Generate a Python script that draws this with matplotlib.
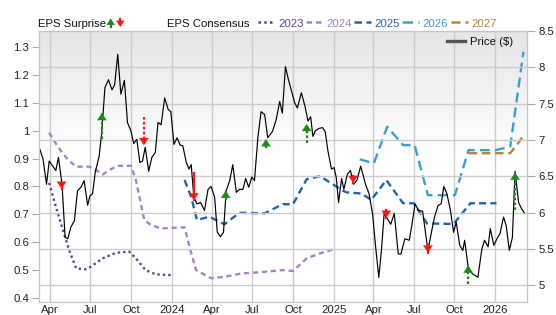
import numpy as np
import pandas as pd
import matplotlib
matplotlib.use("Agg")
import matplotlib.pyplot as plt
import matplotlib.dates as mdates
from matplotlib.lines import Line2D
from matplotlib.colors import LinearSegmentedColormap
from matplotlib.ticker import FixedLocator, FixedFormatter, FuncFormatter

plt.rcParams["font.family"] = ["Liberation Sans", "DejaVu Sans"]

# %%
# Data
price_dates = [
    "2023-03-09", "2023-03-16", "2023-03-24", "2023-03-30", "2023-04-07", "2023-04-14", "2023-04-20", "2023-04-28",
    "2023-05-05", "2023-05-11", "2023-05-18", "2023-05-26", "2023-06-02", "2023-06-10", "2023-06-17", "2023-06-25",
    "2023-06-30", "2023-07-06", "2023-07-12", "2023-07-21", "2023-07-27", "2023-08-03", "2023-08-11", "2023-08-19",
    "2023-08-25", "2023-09-01", "2023-09-08", "2023-09-16", "2023-09-23", "2023-10-01", "2023-10-07", "2023-10-14",
    "2023-10-21", "2023-10-27", "2023-11-02", "2023-11-10", "2023-11-17", "2023-11-25", "2023-12-01", "2023-12-08",
    "2023-12-16", "2023-12-24", "2023-12-30", "2024-01-06", "2024-01-13", "2024-01-20", "2024-01-26", "2024-02-03",
    "2024-02-09", "2024-02-14", "2024-02-20", "2024-02-27", "2024-03-06", "2024-03-15", "2024-03-23", "2024-03-30",
    "2024-04-07", "2024-04-13", "2024-04-20", "2024-04-27", "2024-05-03", "2024-05-11", "2024-05-18", "2024-05-26",
    "2024-06-02", "2024-06-10", "2024-06-16", "2024-06-23", "2024-06-30", "2024-07-06", "2024-07-14", "2024-07-21",
    "2024-07-29", "2024-08-05", "2024-08-16", "2024-08-24", "2024-09-01", "2024-09-07", "2024-09-14", "2024-09-20",
    "2024-09-28", "2024-10-05", "2024-10-11", "2024-10-20", "2024-10-28", "2024-11-04", "2024-11-10", "2024-11-15",
    "2024-11-21", "2024-11-29", "2024-12-07", "2024-12-13", "2024-12-19", "2024-12-27", "2025-01-02", "2025-01-07",
    "2025-01-12", "2025-01-19", "2025-01-24", "2025-02-01", "2025-02-08", "2025-02-15", "2025-02-23", "2025-03-03",
    "2025-03-08", "2025-03-14", "2025-03-22", "2025-03-30", "2025-04-06", "2025-04-13", "2025-04-19", "2025-04-25",
    "2025-05-03", "2025-05-10", "2025-05-18", "2025-05-27", "2025-06-02", "2025-06-11", "2025-06-21", "2025-06-27",
    "2025-07-04", "2025-07-12", "2025-07-21", "2025-08-02", "2025-08-10", "2025-08-17", "2025-08-25", "2025-09-01",
    "2025-09-07", "2025-09-14", "2025-09-22", "2025-09-29", "2025-10-05", "2025-10-13", "2025-10-20", "2025-10-24",
    "2025-11-01", "2025-11-10", "2025-11-23", "2025-12-02", "2025-12-08", "2025-12-16", "2025-12-21", "2025-12-29",
    "2026-01-05", "2026-01-12", "2026-01-20", "2026-01-26", "2026-02-02", "2026-02-09", "2026-02-15", "2026-02-23",
    "2026-03-02", "2026-03-08",
]
price_values = [
    6.87, 6.74, 6.39, 6.71, 6.64, 6.58, 6.76, 6.39,
    5.66, 5.64, 5.80, 5.89, 6.30, 6.35, 6.44, 6.10,
    6.23, 6.26, 6.55, 6.78, 7.12, 7.72, 7.83, 7.69,
    7.76, 8.18, 7.63, 7.82, 7.24, 7.12, 6.95, 7.01,
    6.69, 6.71, 6.90, 6.57, 6.76, 6.83, 7.24, 7.21,
    7.58, 7.42, 7.39, 6.94, 7.03, 6.93, 6.92, 6.69,
    6.60, 6.66, 6.21, 6.12, 6.14, 6.03, 6.32, 6.36,
    6.21, 5.73, 5.67, 5.73, 6.30, 6.44, 6.66, 6.28,
    6.32, 6.32, 6.47, 6.35, 6.49, 6.44, 7.05, 7.39,
    7.35, 7.03, 7.12, 7.28, 7.53, 7.37, 8.01, 7.85,
    7.67, 7.51, 7.44, 7.65, 7.47, 7.26, 7.32, 7.05,
    7.13, 7.16, 7.17, 7.11, 6.85, 6.60, 6.62, 6.48,
    6.14, 6.47, 6.32, 6.53, 6.58, 6.39, 6.45, 6.64,
    6.53, 6.39, 6.26, 5.98, 5.52, 5.11, 5.48, 5.98,
    5.91, 5.84, 5.99, 5.43, 5.43, 5.64, 5.62, 5.84,
    6.12, 6.03, 6.02, 5.48, 5.73, 5.94, 6.10, 6.12,
    6.36, 6.26, 6.03, 5.73, 5.87, 5.55, 5.48, 5.62,
    5.25, 5.16, 5.11, 5.50, 5.62, 5.53, 5.78, 5.55,
    5.64, 5.71, 5.94, 5.82, 5.48, 5.66, 6.57, 6.14,
    6.05, 6.00,
]

eps_2023_dates = ["2023-03-30", "2023-04-14", "2023-04-29", "2023-05-14", "2023-05-30", "2023-06-21",
                  "2023-07-02", "2023-07-29", "2023-08-28", "2023-09-27", "2023-10-12", "2023-11-03",
                  "2023-11-26", "2023-12-30"]
eps_2023 = [0.813, 0.728, 0.650, 0.573, 0.507, 0.504, 0.513, 0.543, 0.563, 0.567, 0.543, 0.501, 0.486, 0.483]

eps_2024_dates = ["2023-03-30", "2023-04-14", "2023-04-29", "2023-05-14", "2023-05-30", "2023-06-28",
                  "2023-07-14", "2023-07-29", "2023-08-13", "2023-09-01", "2023-10-01", "2023-10-12",
                  "2023-10-23", "2023-10-31", "2023-11-15", "2023-12-08", "2024-01-30", "2024-02-10",
                  "2024-02-25", "2024-03-30", "2024-04-29", "2024-06-06", "2024-07-14", "2024-09-08",
                  "2024-10-01", "2024-11-01", "2024-12-01", "2024-12-31"]
eps_2024 = [0.992, 0.954, 0.919, 0.892, 0.871, 0.871, 0.859, 0.843, 0.859, 0.874, 0.874, 0.823,
            0.740, 0.680, 0.662, 0.650, 0.654, 0.585, 0.501, 0.472, 0.477, 0.489, 0.493, 0.501,
            0.498, 0.543, 0.561, 0.575]

eps_2025_dates = ["2024-01-30", "2024-02-14", "2024-02-27", "2024-03-26", "2024-04-29", "2024-06-02",
                  "2024-07-29", "2024-09-08", "2024-10-01", "2024-11-01", "2024-12-01", "2025-01-22",
                  "2025-01-30", "2025-03-05", "2025-03-27", "2025-04-30", "2025-06-07", "2025-07-01",
                  "2025-07-31", "2025-09-29", "2025-11-06", "2026-01-04"]
eps_2025 = [0.823, 0.763, 0.680, 0.692, 0.665, 0.706, 0.704, 0.737, 0.736, 0.826, 0.837, 0.785,
            0.779, 0.775, 0.752, 0.823, 0.740, 0.740, 0.668, 0.666, 0.740, 0.740]

eps_2026_dates = ["2025-03-01", "2025-04-02", "2025-05-02", "2025-06-07", "2025-07-03", "2025-08-02",
                  "2025-10-02", "2025-11-02", "2026-01-01", "2026-02-04", "2026-03-06"]
eps_2026 = [0.897, 0.883, 1.014, 0.948, 0.948, 0.769, 0.769, 0.930, 0.930, 0.942, 1.282]

eps_2027_dates = ["2025-11-02", "2026-02-04", "2026-03-06"]
eps_2027 = [0.919, 0.919, 0.980]

# EPS surprises, drawn against the price scale
surprise_dates = ["2023-04-27", "2023-07-27", "2023-10-30", "2024-02-20", "2024-05-02", "2024-08-01",
                  "2024-11-01", "2025-02-14", "2025-04-30", "2025-08-02", "2025-11-01", "2026-02-15"]
surprise_from = [6.41, 7.01, 7.31, 6.54, 6.19, 6.89, 6.96, 6.51, 6.03, 5.55, 5.02, 6.03]
surprise_to = [6.33, 7.37, 6.93, 6.17, 6.30, 7.01, 7.22, 6.41, 5.93, 5.45, 5.27, 6.55]
surprise_dotted = [False, True, True, False, False, True, True, False, False, False, True, True]

tick_dates = ["2023-04-01", "2023-07-01", "2023-10-01", "2024-01-01", "2024-04-01", "2024-07-01",
              "2024-10-01", "2025-01-01", "2025-04-01", "2025-07-01", "2025-10-01", "2026-01-01"]
tick_labels = ["Apr", "Jul", "Oct", "2024", "Apr", "Jul", "Oct", "2025", "Apr", "Jul", "Oct", "2026"]

series = [
    ("2023", eps_2023_dates, eps_2023, "#633f93", (0, (1, 1.3))),
    ("2024", eps_2024_dates, eps_2024, "#a583c6", (0, (2.2, 1.6))),
    ("2025", eps_2025_dates, eps_2025, "#2263ad", (0, (3, 1.8))),
    ("2026", eps_2026_dates, eps_2026, "#3b9fd0", (0, (4.2, 2.2))),
    ("2027", eps_2027_dates, eps_2027, "#b7843a", (0, (3.6, 2.0))),
]
GREEN = "#1b8a1b"
RED = "#ff1414"
GRID = "#cccccc"
FS = 8.2

W, H = 556, 315
fig = plt.figure(figsize=(W / 100, H / 100), dpi=100)
rect = [39 / W, 13 / H, 488 / W, 271 / H]

# gradient background behind the plot
bg = fig.add_axes(rect, zorder=-1)
rows = np.clip(np.linspace(0, 271, 271) / 120.0, 0, 1)
shade = LinearSegmentedColormap.from_list("bg", ["#e5e5e5", "#ffffff"])
bg.imshow(rows.reshape(-1, 1), cmap=shade, aspect="auto", extent=[0, 1, 0, 1])
bg.axis("off")

ax = fig.add_axes(rect)
ax.patch.set_visible(False)
ax2 = ax.twinx()

for name, dates, vals, color, ls in series:
    ax.plot(pd.to_datetime(dates), vals, color=color, lw=1.7, linestyle=ls,
            dash_capstyle="butt", solid_joinstyle="round")

ax2.plot(pd.to_datetime(price_dates), price_values, color="black", lw=0.85)

for d, y0, y1, dotted in zip(surprise_dates, surprise_from, surprise_to, surprise_dotted):
    dt = pd.Timestamp(d)
    color = GREEN if y1 > y0 else RED
    ax2.plot([dt, dt], [y0, y1], color=color, lw=1.6,
             linestyle=(0, (1.2, 1.0)) if dotted else "-")
    off = -5 if y1 > y0 else 5
    ax2.annotate("", xy=(dt, y1), xytext=(0, off), textcoords="offset points",
                 arrowprops=dict(arrowstyle="-|>,head_width=0.34,head_length=0.5",
                                 color=color, lw=0.1, shrinkA=0, shrinkB=0))

start, end = pd.Timestamp("2023-03-07"), pd.Timestamp("2026-03-14")
ax.set_xlim(start, end)
ax.set_ylim(0.387, 1.356)
ax2.set_ylim(4.77, 8.5)

ax.xaxis.set_major_locator(FixedLocator(mdates.date2num(pd.to_datetime(tick_dates))))
ax.xaxis.set_major_formatter(FixedFormatter(tick_labels))
ax.set_yticks(np.arange(0.4, 1.31, 0.1))
ax2.set_yticks(np.arange(5.0, 8.51, 0.5))
ax.yaxis.set_major_formatter(FuncFormatter(lambda v, _: f"{round(v, 1):g}"))
ax2.yaxis.set_major_formatter(FuncFormatter(lambda v, _: f"{v:g}"))

ax.grid(axis="x", color=GRID, lw=1)
ax2.grid(axis="y", color=GRID, lw=1)
ax2.set_axisbelow(True)
for a in (ax, ax2):
    for s in a.spines.values():
        s.set_color("#c4c4c4")
ax.tick_params(axis="x", length=0, pad=2, labelsize=FS, colors="#222222")
ax.tick_params(axis="y", length=5, pad=2, labelsize=FS, color="#aaaaaa", labelcolor="#222222")
ax2.tick_params(axis="y", length=6, pad=2, labelsize=FS, color="#aaaaaa", labelcolor="#222222")


def fp(x, y):
    return x / W, 1 - y / H


# top legend
fig.text(*fp(38, 27.3), "EPS Surprise", fontsize=FS, color="#111111")
for x, up, color in [(110.7, True, GREEN), (120.3, False, RED)]:
    y_tail, y_tip = (27, 18.5) if up else (18.5, 27)
    fig.add_artist(Line2D(*zip(fp(x, y_tail), fp(x, (y_tail + y_tip) / 2)),
                          transform=fig.transFigure, color=color, lw=1.6))
    ax.annotate("", xy=fp(x, y_tip), xycoords="figure fraction",
                xytext=fp(x, (y_tail + y_tip) / 2 + (1 if up else -1)), textcoords="figure fraction",
                arrowprops=dict(arrowstyle="-|>,head_width=0.3,head_length=0.45",
                                color=color, lw=0.1, shrinkA=0, shrinkB=0))

fig.text(*fp(167, 27.3), "EPS Consensus", fontsize=FS, color="#111111")
legend_x = [258, 306, 354, 402, 451]
for (name, _, _, color, ls), x0 in zip(series, legend_x):
    fig.add_artist(Line2D(*zip(fp(x0, 22), fp(x0 + 17, 22)), transform=fig.transFigure,
                          color=color, lw=1.8, linestyle=ls, dash_capstyle="butt"))
    fig.text(*fp(x0 + 20, 27.3), name, fontsize=FS, color=color)

# price legend inside the plot
fig.add_artist(Line2D(*zip(fp(447, 41), fp(465, 41)), transform=fig.transFigure,
                      color="#555555", lw=2.4))
fig.text(*fp(470, 45), "Price ($)", fontsize=FS, color="#111111")

fig.savefig("out.png", dpi=100)
